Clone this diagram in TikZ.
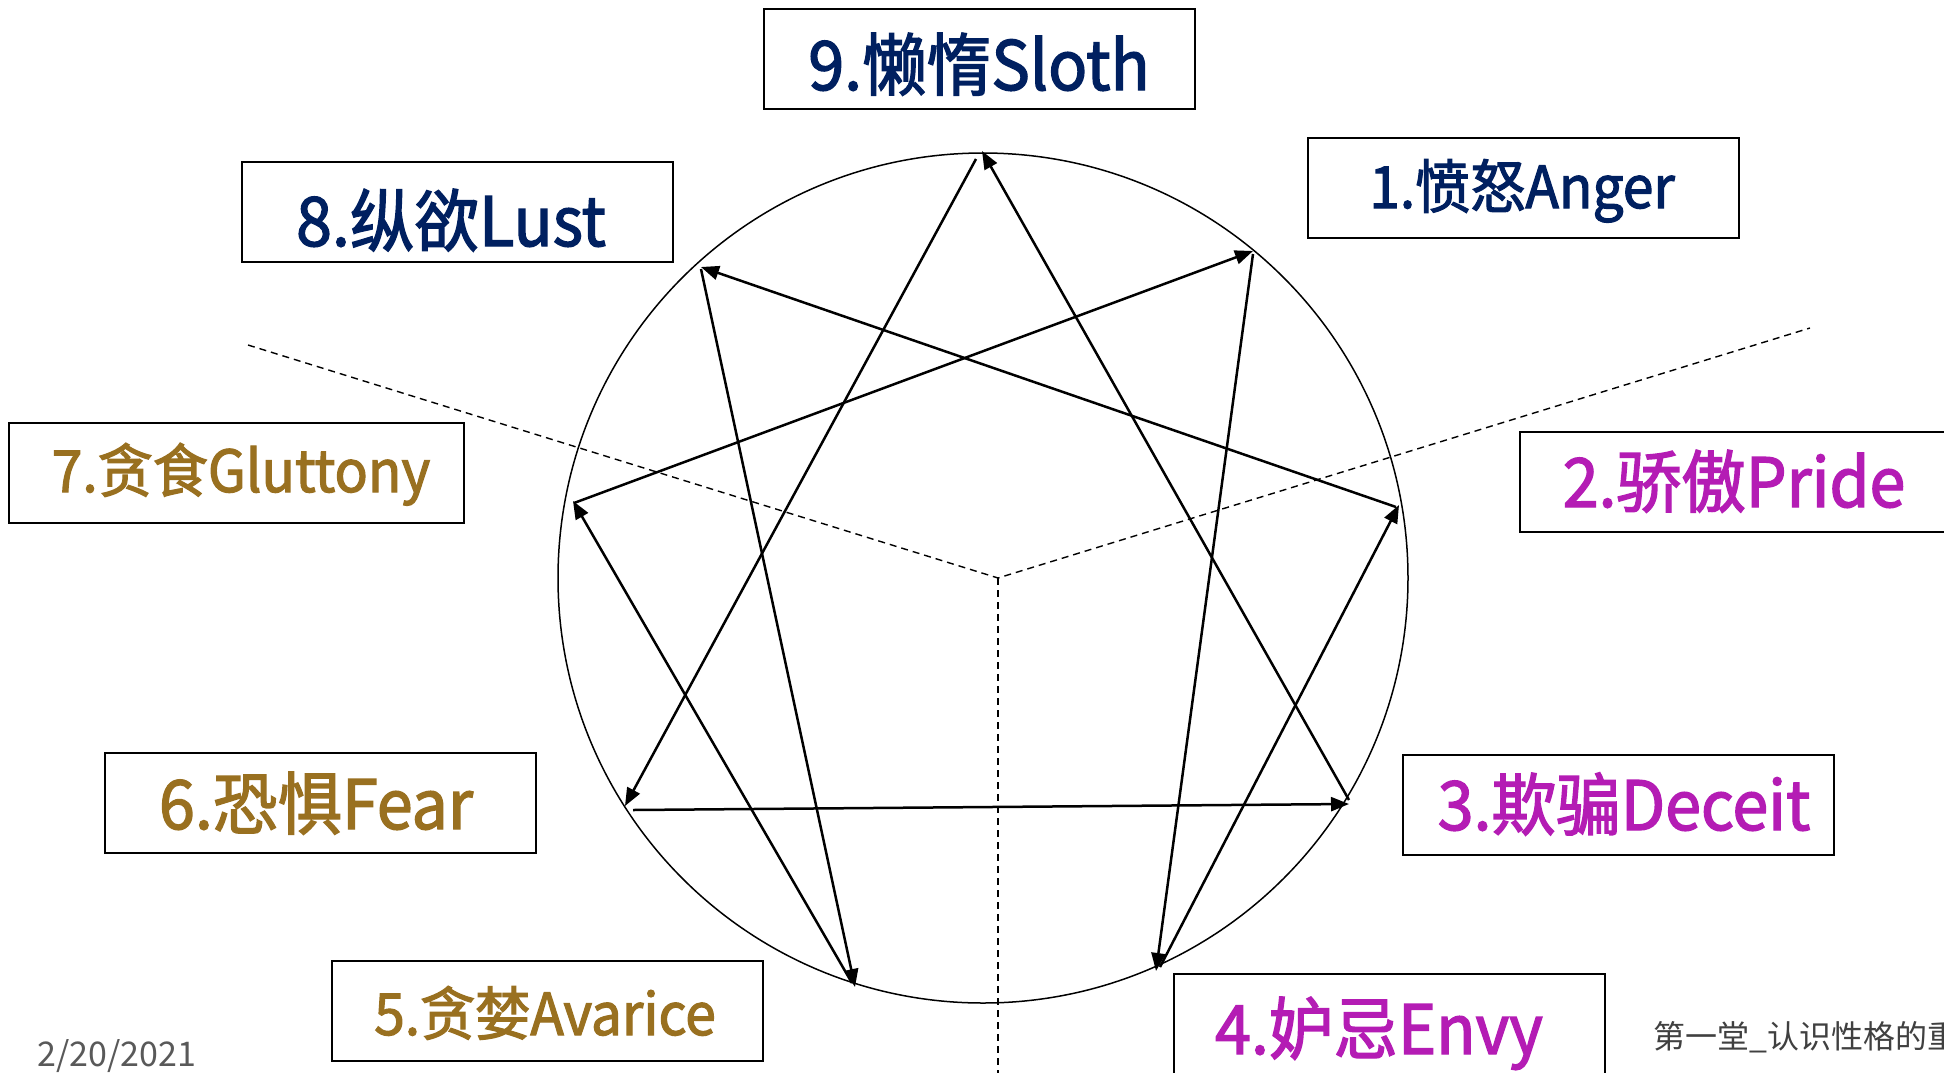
\documentclass[tikz,border=0pt]{standalone}
\usepackage{fontspec}
\setmainfont{Noto Sans CJK SC}
\newfontfamily\lbl{Noto Sans CJK SC}[FakeBold=2, FakeStretch=0.95]
\newfontfamily\plain{Noto Sans CJK SC}
\usetikzlibrary{arrows.meta}
\definecolor{navy}{RGB}{0,32,96}
\definecolor{gold}{RGB}{153,112,32}
\definecolor{mag}{RGB}{180,28,180}
\definecolor{dategrey}{RGB}{89,89,89}
\definecolor{footgrey}{RGB}{64,64,64}
\tikzset{
  box/.style={draw=black, line width=2pt, minimum width=431pt, minimum height=100pt, inner sep=0pt, outer sep=0pt},
  big/.style={anchor=base, inner sep=0pt, font=\lbl\fontsize{68pt}{80pt}\selectfont},
  small/.style={anchor=base, inner sep=0pt, font=\lbl\fontsize{58pt}{70pt}\selectfont},
  arr/.style={line width=2.5pt, -{Triangle[length=18pt,width=14pt]}, shorten >=0pt},
  guide/.style={line width=1.4pt, dash pattern=on 7pt off 5pt},
  ring/.style={circle, draw=black, line width=1.5pt, minimum size=850pt, inner sep=0pt, outer sep=0pt}
}
\begin{document}
\begin{tikzpicture}[x=1pt,y=-1pt]
\useasboundingbox[fill=white] (0,0) rectangle (1944,1072);

% dashed guides
\coordinate (c) at (998,578);
\coordinate (gl) at (248,345);
\coordinate (gr) at (1810,328);
\coordinate (gb) at (998,1080);
\draw[guide] (gl) -- (c) -- (gr);
\draw[guide] (c) -- (gb);

% circle
\node[ring] (ring) at (983,578) {};

% points on the circle
\coordinate (p9) at (982,151);
\coordinate (p9s) at (976,159);
\coordinate (p1) at (1253,251);
\coordinate (p1s) at (1253,254);
\coordinate (p2) at (1399,505);
\coordinate (p2s) at (1396,507);
\coordinate (p3) at (1349,804);
\coordinate (p3s) at (1349,800);
\coordinate (p4) at (1156,971);
\coordinate (p4s) at (1160,967);
\coordinate (p5) at (855,987);
\coordinate (p5s) at (852,983);
\coordinate (p6) at (625,806);
\coordinate (p6s) at (633,810);
\coordinate (p7) at (573,501);
\coordinate (p7s) at (574,503);
\coordinate (p8) at (701,267);
\coordinate (p8s) at (701,269);

% arrows
\draw[arr] (p9s) -- (p6);
\draw[arr] (p6s) -- (p3);
\draw[arr] (p3s) -- (p9);
\draw[arr] (p1s) -- (p4);
\draw[arr] (p4s) -- (p2);
\draw[arr] (p2s) -- (p8);
\draw[arr] (p8s) -- (p5);
\draw[arr] (p5s) -- (p7);
\draw[arr] (p7s) -- (p1);

% boxes
\node[box] (b9) at (979.5,59) {};
\node[box] (b1) at (1523,187.5) {};
\node[box] (b8) at (457.5,211.5) {};
\node[box, minimum width=455pt] (b7) at (236.8,472.7) {};
\node[box] (b2) at (1735.5,482.2) {};
\node[box] (b6) at (320,802.5) {};
\node[box] (b3) at (1618,805) {};
\node[box] (b5) at (547.5,1011.3) {};
\node[box] (b4) at (1389.5,1024) {};

% labels
\node[big, text=navy] (t9) at (979,90) {9.懒惰Sloth};
\node[small, text=navy] (t1) at (1522,208) {1.愤怒Anger};
\node[big, text=navy] (t8) at (451,246) {8.纵欲Lust};
\node[small, text=gold] (t7) at (241,492) {7.贪食Gluttony};
\node[big, text=mag] (t2) at (1734,507) {2.骄傲Pride};
\node[big, text=gold] (t6) at (316,829) {6.恐惧Fear};
\node[big, text=mag] (t3) at (1624,830) {3.欺骗Deceit};
\node[small, text=gold] (t5) at (545,1035) {5.贪婪Avarice};
\node[big, text=mag] (t4) at (1379,1054) {4.妒忌Envy};

% footer
\node[anchor=base west, inner sep=0pt, text=dategrey, font=\plain\fontsize{34pt}{38pt}\selectfont] (date) at (37,1066) {2/20/2021};
\node[anchor=base west, inner sep=0pt, text=footgrey, font=\plain\fontsize{32pt}{36pt}\selectfont] (foot) at (1653,1048) {第一堂\_认识性格的重};
\end{tikzpicture}
\end{document}
